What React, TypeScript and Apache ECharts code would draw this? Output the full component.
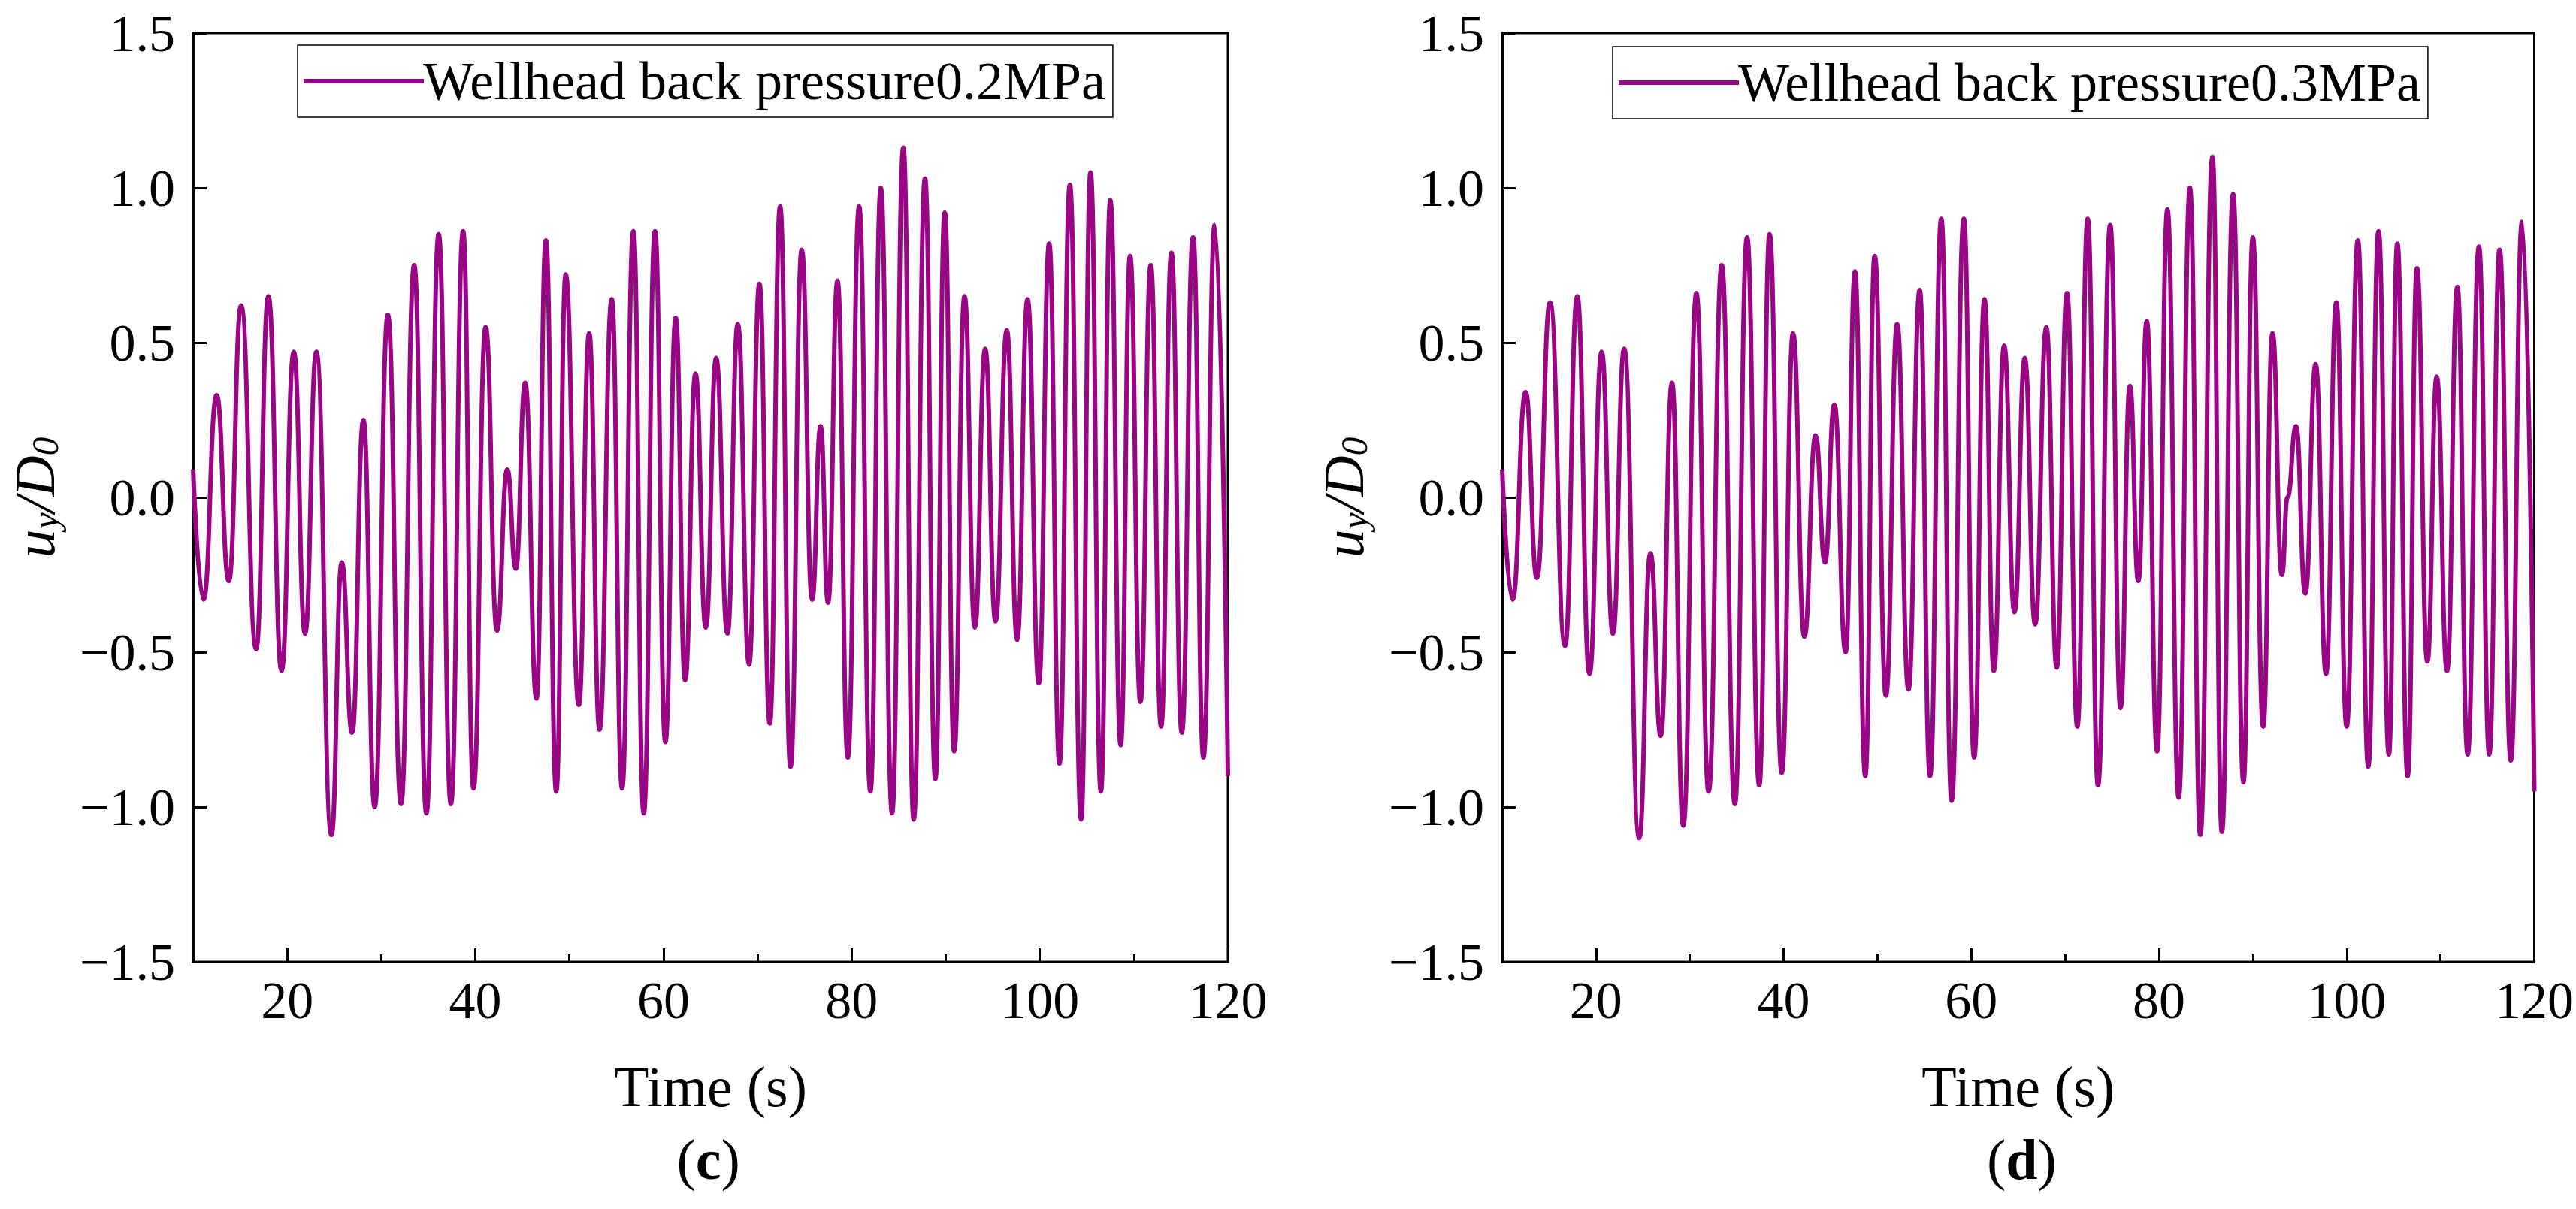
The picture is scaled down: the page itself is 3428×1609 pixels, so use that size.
import { useEffect, useRef } from "react";
import * as echarts from "echarts";

// extrema: [time (s), u_y/D_0]
const seriesC: [number, number][] = [
  [10, 0.09], [11.1, -0.33], [12.5, 0.33], [13.8, -0.27], [15.1, 0.62], [16.7, -0.49],
  [18.0, 0.65], [19.4, -0.56], [20.7, 0.47], [21.9, -0.44], [23.1, 0.47], [24.7, -1.09],
  [25.8, -0.21], [26.9, -0.76], [28.1, 0.25], [29.3, -1.0], [30.7, 0.59], [32.1, -0.99],
  [33.5, 0.75], [34.8, -1.02], [36.1, 0.85], [37.4, -0.99], [38.7, 0.86], [39.8, -0.94],
  [41.1, 0.55], [42.3, -0.43], [43.4, 0.09], [44.3, -0.23], [45.3, 0.37], [46.5, -0.65],
  [47.5, 0.83], [48.6, -0.95], [49.6, 0.72], [51.0, -0.67], [52.1, 0.53], [53.2, -0.75],
  [54.5, 0.64], [55.6, -0.94], [56.8, 0.86], [57.9, -1.02], [59.1, 0.86], [60.2, -0.79],
  [61.3, 0.58], [62.3, -0.59], [63.4, 0.4], [64.5, -0.42], [65.6, 0.45], [66.8, -0.44],
  [67.9, 0.56], [69.1, -0.54], [70.2, 0.69], [71.3, -0.73], [72.4, 0.94], [73.5, -0.87],
  [74.7, 0.8], [75.8, -0.33], [76.7, 0.23], [77.5, -0.34], [78.5, 0.7], [79.6, -0.84],
  [80.8, 0.94], [82.0, -0.95], [83.1, 1.0], [84.3, -1.02], [85.5, 1.13], [86.6, -1.04],
  [87.8, 1.03], [88.9, -0.91], [89.9, 0.92], [90.9, -0.82], [92.0, 0.65], [93.1, -0.42],
  [94.2, 0.48], [95.3, -0.4], [96.5, 0.54], [97.6, -0.46], [98.7, 0.64], [99.9, -0.6],
  [101.0, 0.82], [102.1, -0.86], [103.2, 1.01], [104.4, -1.04], [105.4, 1.05], [106.5, -0.95],
  [107.5, 0.96], [108.6, -0.8], [109.6, 0.78], [110.7, -0.66], [111.8, 0.75], [112.9, -0.74],
  [114.0, 0.79], [115.1, -0.76], [116.3, 0.84], [117.4, -0.84], [118.6, 0.88], [120, -0.9],
];

const seriesD: [number, number][] = [
  [10, 0.09], [11.1, -0.33], [12.5, 0.34], [13.7, -0.26], [15.1, 0.63], [16.7, -0.48],
  [18.0, 0.65], [19.3, -0.57], [20.6, 0.47], [21.8, -0.44], [23.0, 0.48], [24.6, -1.1],
  [25.8, -0.18], [26.9, -0.77], [28.1, 0.37], [29.3, -1.06], [30.7, 0.66], [32.0, -0.95],
  [33.4, 0.75], [34.8, -0.99], [36.1, 0.84], [37.4, -0.93], [38.5, 0.85], [39.8, -0.89],
  [41.0, 0.53], [42.2, -0.45], [43.4, 0.2], [44.4, -0.21], [45.4, 0.3], [46.6, -0.5],
  [47.6, 0.73], [48.7, -0.9], [49.7, 0.78], [50.9, -0.64], [52.1, 0.56], [53.3, -0.62],
  [54.5, 0.67], [55.6, -0.9], [56.8, 0.9], [57.9, -0.98], [59.2, 0.9], [60.3, -0.84],
  [61.4, 0.64], [62.4, -0.56], [63.5, 0.49], [64.6, -0.37], [65.7, 0.45], [66.8, -0.41],
  [68.0, 0.55], [69.1, -0.55], [70.2, 0.66], [71.3, -0.74], [72.4, 0.9], [73.5, -0.93],
  [74.8, 0.88], [75.9, -0.68], [76.9, 0.36], [77.8, -0.27], [78.7, 0.57], [79.8, -0.82],
  [80.9, 0.93], [82.1, -0.97], [83.3, 1.0], [84.4, -1.09], [85.7, 1.1], [86.7, -1.08],
  [87.9, 0.98], [89.0, -0.92], [90.0, 0.84], [91.1, -0.74], [92.1, 0.53], [93.1, -0.25],
  [93.7, 0.0], [94.6, 0.23], [95.6, -0.31], [96.7, 0.43], [97.8, -0.57], [98.9, 0.63],
  [100.0, -0.74], [101.2, 0.83], [102.3, -0.87], [103.4, 0.86], [104.5, -0.83], [105.4, 0.82],
  [106.5, -0.9], [107.5, 0.74], [108.6, -0.53], [109.6, 0.39], [110.7, -0.56], [111.8, 0.68],
  [112.9, -0.83], [114.1, 0.81], [115.2, -0.83], [116.3, 0.8], [117.5, -0.85], [118.7, 0.89],
  [120, -0.95],
];

const names = ["Wellhead back pressure0.2MPa", "Wellhead back pressure0.3MPa"];
const panelLabels = ["c", "d"];
const majorTicks = [20, 40, 60, 80, 100, 120];
const minorTicks = [30, 50, 70, 90, 110];

const FONT = "Liberation Serif";
const COLOR = "#990584";

const App = () => {
  const chartRef = useRef<HTMLDivElement>(null);

  useEffect(() => {
    document.body.style.margin = "0";
    if (!chartRef.current) return;
    const chart = echarts.init(chartRef.current, null, { renderer: "svg" });

    const grids = [
      { left: 257, top: 44, width: 1377, height: 1236 },
      { left: 1999, top: 44, width: 1380, height: 1236 },
    ];
    const legendPos = [
      { left: 396, top: 60 },
      { left: 2146, top: 62 },
    ];
    const data = [seriesC, seriesD];

    const fmtY = (v: number) => (v < 0 ? "\u2212" + Math.abs(v).toFixed(1) : v.toFixed(1));

    const xAxis: any[] = [];
    const yAxis: any[] = [];
    grids.forEach((_, i) => {
      xAxis.push({
        type: "value",
        gridIndex: i,
        min: 10,
        max: 120,
        position: "bottom",
        name: "Time (s)",
        nameLocation: "middle",
        nameGap: 128,
        nameTextStyle: { fontFamily: FONT, fontSize: 76, color: "#000" },
        axisLine: { onZero: false, lineStyle: { color: "#000", width: 3 } },
        axisTick: { inside: true, length: 18, customValues: majorTicks, lineStyle: { color: "#000", width: 3 } },
        axisLabel: { customValues: majorTicks, fontFamily: FONT, fontSize: 70, color: "#000", margin: 16 },
        splitLine: { show: false },
      });
      xAxis.push({
        type: "value",
        gridIndex: i,
        min: 10,
        max: 120,
        position: "bottom",
        axisLine: { show: false, onZero: false },
        axisTick: { inside: true, length: 10, customValues: minorTicks, lineStyle: { color: "#000", width: 3 } },
        axisLabel: { show: false },
        splitLine: { show: false },
      });
      yAxis.push({
        type: "value",
        gridIndex: i,
        min: -1.5,
        max: 1.5,
        interval: 0.5,
        name: "{u|u}{s|y}{u|/D}{s|0}",
        nameLocation: "middle",
        nameGap: 172,
        nameTextStyle: {
          rich: {
            u: { fontFamily: FONT, fontStyle: "italic", fontSize: 76, color: "#000" },
            s: { fontFamily: FONT, fontStyle: "italic", fontSize: 50, color: "#000", verticalAlign: "bottom", padding: [28, 0, 0, 0] },
          },
        },
        axisLine: { onZero: false, lineStyle: { color: "#000", width: 3 } },
        axisTick: { inside: true, length: 18, lineStyle: { color: "#000", width: 3 } },
        axisLabel: { formatter: fmtY, fontFamily: FONT, fontSize: 70, color: "#000", margin: 24 },
        splitLine: { show: false },
      });
    });

    chart.setOption({
      animation: false,
      backgroundColor: "#fff",
      grid: grids.map((g) => ({ ...g, show: true, borderColor: "#000", borderWidth: 3, backgroundColor: "transparent" })),
      xAxis,
      yAxis,
      legend: names.map((n, i) => ({
        data: [n],
        ...legendPos[i],
        orient: "horizontal",
        padding: [12, 10, 12, 8],
        borderColor: "#000",
        borderWidth: 1.5,
        itemWidth: 160,
        itemHeight: 6,
        itemGap: 0,
        icon: "rect",
        textStyle: { fontFamily: FONT, fontSize: 72, color: "#000", padding: [0, 0, 0, -6] },
      })),
      series: data.map((d, i) => ({
        name: names[i],
        type: "line",
        xAxisIndex: i * 2,
        yAxisIndex: i,
        data: d,
        smooth: 0.5,
        smoothMonotone: "x",
        showSymbol: false,
        lineStyle: { color: COLOR, width: 6 },
        itemStyle: { color: COLOR },
      })),
      graphic: panelLabels.map((p, i) => ({
        type: "text",
        left: grids[i].left + grids[i].width / 2 - 45,
        top: 1505,
        style: {
          text: "({b|" + p + "})",
          font: `76px "${FONT}"`,
          fill: "#000",
          rich: { b: { fontFamily: FONT, fontSize: 76, fontWeight: "bold", fill: "#000" } },
        },
      })),
    });

    const handleResize = () => chart.resize();
    window.addEventListener("resize", handleResize);
    return () => {
      chart.dispose();
      window.removeEventListener("resize", handleResize);
    };
  }, []);

  return <div ref={chartRef} style={{ width: "3428px", height: "1609px" }} />;
};

export default App;
